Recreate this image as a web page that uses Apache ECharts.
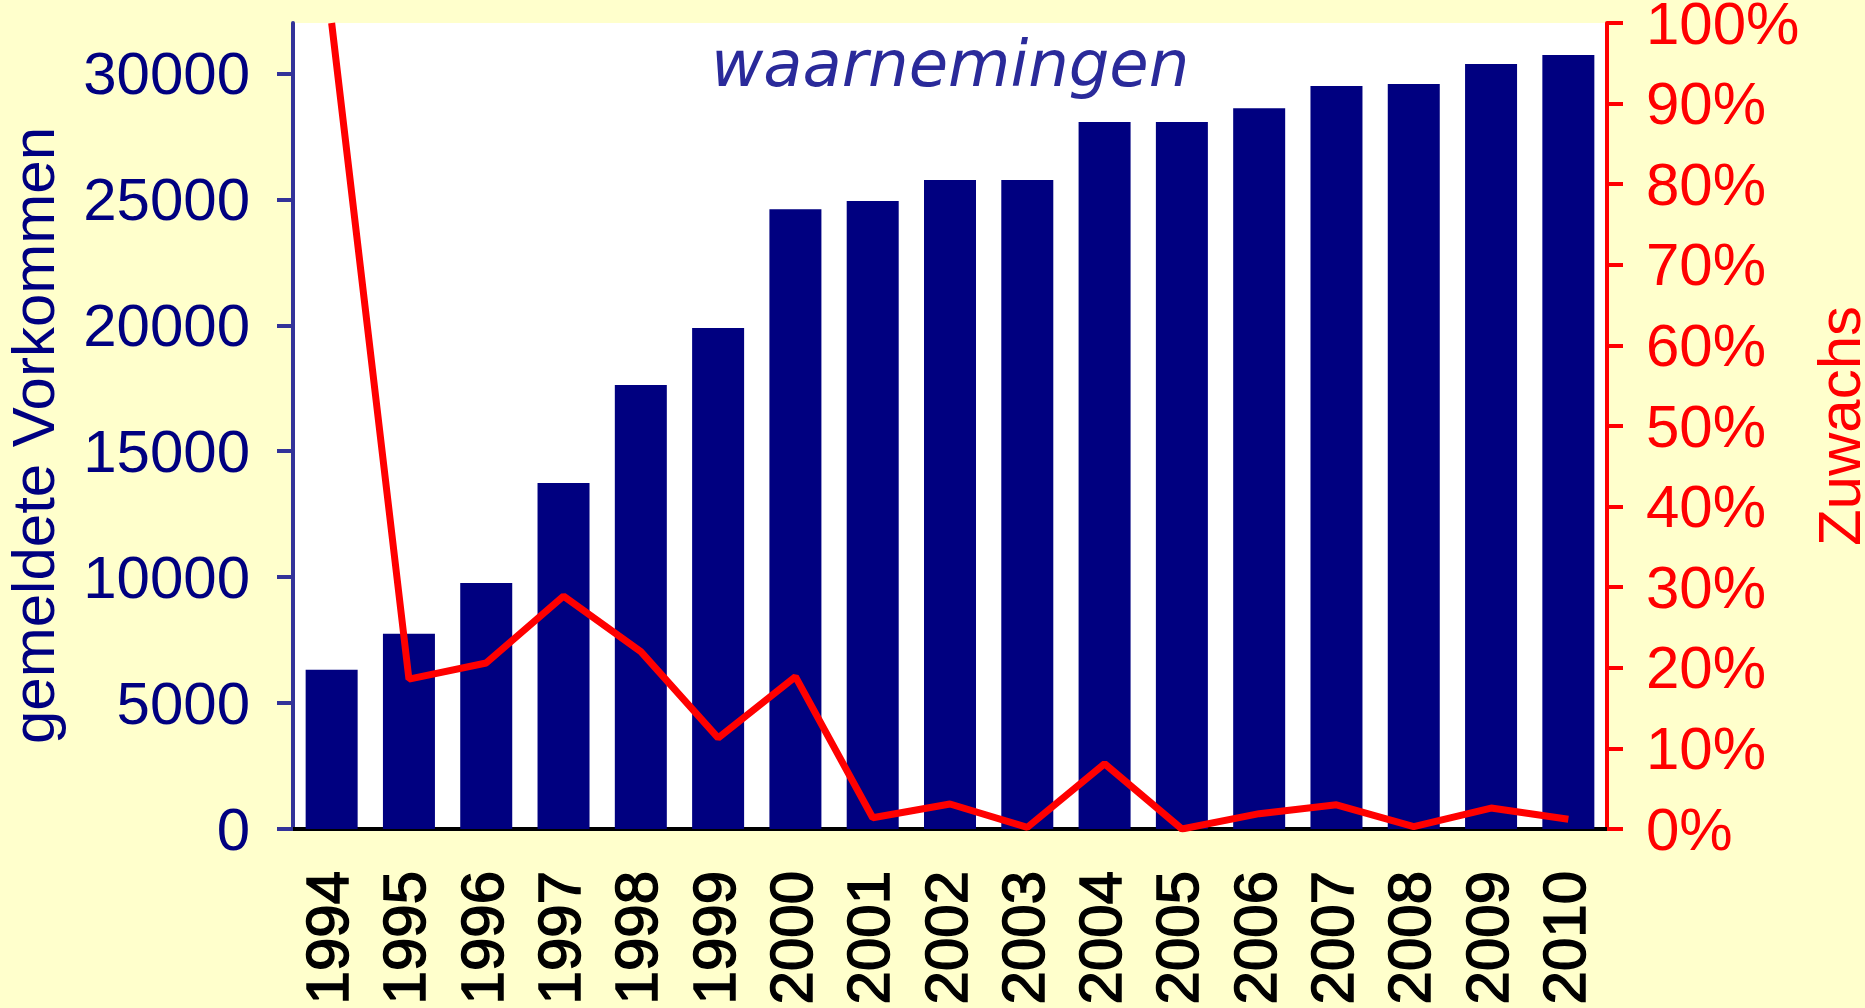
<!DOCTYPE html>
<html>
<head>
<meta charset="utf-8">
<script src="https://cdn.jsdelivr.net/npm/echarts@6/dist/echarts.min.js"></script>
<style>
  html, body { margin: 0; padding: 0; background: #FFFFCC; }
  #chart { width: 1865px; height: 1008px; }
</style>
</head>
<body>
<div id="chart"></div>
<script>
// jaren
var years = ['1994', '1995', '1996', '1997', '1998', '1999', '2000', '2001', '2002',
  '2003', '2004', '2005', '2006', '2007', '2008', '2009', '2010']
// gemeldete Vorkommen (waarnemingen)
var meldingen = [6320, 7750, 9770, 13740, 17630, 19890, 24610, 24930, 25770,
  25770, 28070, 28070, 28620, 29500, 29580, 30370, 30730]
// Zuwachs in %
var zuwachs = [100, 18.6, 20.6, 28.9, 22.0, 11.3, 18.9, 1.4, 3.1,
  0.2, 8.1, 0, 1.9, 3.0, 0.3, 2.6, 1.2]
// Achsenbeschriftung links
var countTicks = [0, 5000, 10000, 15000, 20000, 25000, 30000]

var font = 'Liberation Sans, Arial, sans-serif'
var chart = echarts.init(document.getElementById('chart'))

chart.setOption({
  backgroundColor: '#FFFFCC',
  animation: false,
  title: {
    text: 'waarnemingen',
    left: 711,
    top: 37,
    padding: 0,
    textStyle: {
      fontFamily: 'DejaVu Sans',
      fontStyle: 'italic',
      fontWeight: 'normal',
      fontSize: 64,
      color: '#2a2a9a'
    }
  },
  grid: {
    left: 293,
    right: 258,
    top: 23,
    bottom: 179,
    outerBoundsMode: 'none',
    show: true,
    backgroundColor: '#ffffff',
    borderWidth: 0
  },
  xAxis: {
    type: 'category',
    data: years,
    axisLine: { lineStyle: { color: '#000000', width: 4 } },
    axisTick: { interval: 0, length: 16, lineStyle: { color: '#000000', width: 4 } },
    axisLabel: {
      interval: 0,
      rotate: 90,
      margin: 42,
      color: '#000000',
      fontFamily: font,
      fontSize: 60,
      textBorderColor: '#000000',
      textBorderWidth: 1.5
    }
  },
  yAxis: [
    {
      type: 'value',
      position: 'left',
      min: 0,
      max: 32000,
      name: 'gemeldete Vorkommen',
      nameLocation: 'middle',
      nameRotate: 90,
      nameGap: 226,
      nameTextStyle: { color: '#000080', fontFamily: font, fontSize: 60, padding: [0, 19, 0, 0] },
      axisLine: { show: true, lineStyle: { color: '#333399', width: 4 } },
      axisTick: { show: true, length: 16, customValues: countTicks, lineStyle: { color: '#333399', width: 4 } },
      axisLabel: {
        customValues: countTicks,
        formatter: function (v) { return String(v) },
        margin: 43,
        color: '#000080',
        fontFamily: font,
        fontSize: 60,
        verticalAlign: 'top',
        lineHeight: 8
      },
      splitLine: { show: false }
    },
    {
      type: 'value',
      position: 'right',
      min: 0,
      max: 100,
      interval: 10,
      name: 'Zuwachs',
      nameLocation: 'middle',
      nameRotate: 90,
      nameGap: 206,
      nameTextStyle: { color: '#FF0000', fontFamily: font, fontSize: 60 },
      axisLine: { show: true, lineStyle: { color: '#FF0000', width: 4 } },
      axisTick: { show: true, length: 16, lineStyle: { color: '#FF0000', width: 4 } },
      axisLabel: {
        formatter: '{value}%',
        margin: 39,
        color: '#FF0000',
        fontFamily: font,
        fontSize: 60,
        verticalAlign: 'top',
        lineHeight: 8
      },
      splitLine: { show: false }
    }
  ],
  series: [
    {
      name: 'waarnemingen',
      type: 'bar',
      yAxisIndex: 0,
      data: meldingen,
      barWidth: 52,
      itemStyle: { color: '#000080' }
    },
    {
      name: 'Zuwachs',
      type: 'line',
      yAxisIndex: 1,
      data: zuwachs,
      showSymbol: false,
      symbol: 'none',
      lineStyle: { color: '#FF0000', width: 7 },
      z: 5
    }
  ]
})
</script>
</body>
</html>
